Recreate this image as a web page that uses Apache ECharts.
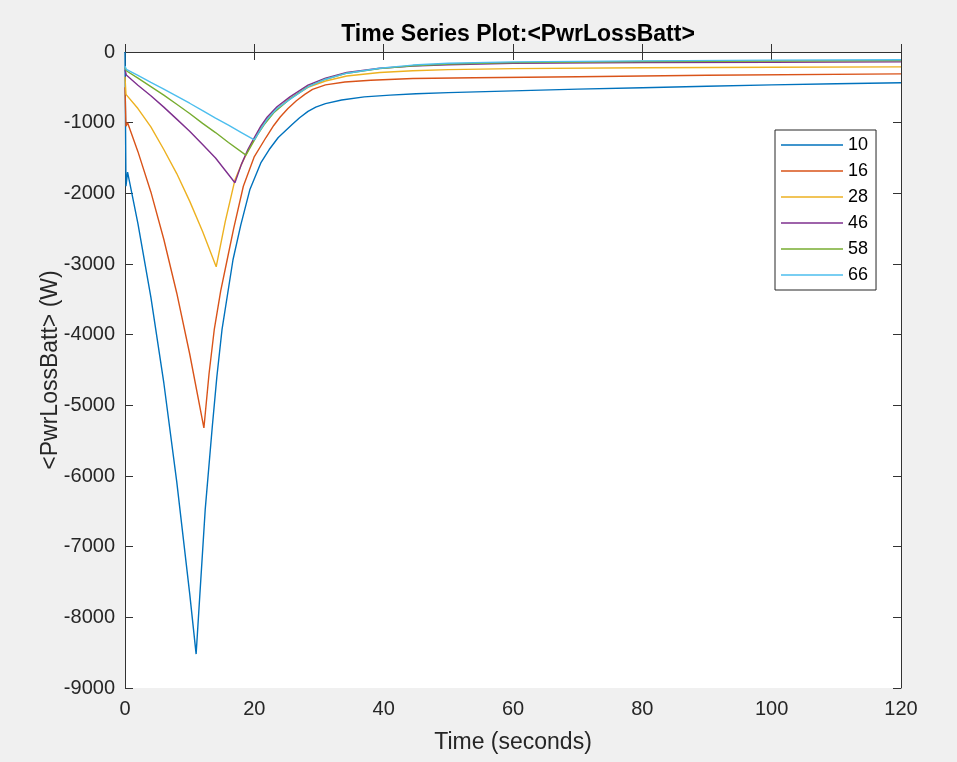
<!DOCTYPE html>
<html>
<head>
<meta charset="utf-8">
<script src="https://cdn.jsdelivr.net/npm/echarts@6/dist/echarts.min.js"></script>
<style>
html,body{margin:0;padding:0;background:#f0f0f0;}
#chart{width:957px;height:762px;}
</style>
</head>
<body>
<div id="chart"></div>
<script>
// ---- data ----
const seriesNames = ['10', '16', '28', '46', '58', '66'];
const xTicks = [0, 20, 40, 60, 80, 100, 120];
const yTicks = [-9000, -8000, -7000, -6000, -5000, -4000, -3000, -2000, -1000, 0];

const t10 = [0, 0.15, 0.4, 2, 4, 6, 8, 10, 11, 12.4, 13.5, 14.2, 15, 16.7, 17.9, 19.3, 21, 22.3, 23.7, 25.8, 27, 28.3, 29.5, 31, 33.5, 37, 41, 45, 50, 60, 70, 80, 90, 100, 110, 120];
const v10 = [0, -1900, -1700, -2430, -3470, -4680, -6080, -7660, -8520, -6480, -5300, -4600, -3930, -2940, -2450, -1950, -1570, -1380, -1210, -1030, -930, -840, -780, -730, -680, -635, -610, -590, -575, -550, -525, -505, -485, -465, -450, -435];

const t16 = [0, 0.15, 0.4, 2, 4, 6, 8, 10, 12.2, 13, 13.8, 14.8, 15.8, 16.8, 18.3, 20, 21.8, 23, 24, 25.2, 26.5, 27.8, 29, 31, 34, 38, 44.5, 54, 70, 90, 120];
const v16 = [-500, -1050, -1000, -1410, -1980, -2650, -3410, -4270, -5320, -4550, -3930, -3380, -2940, -2500, -1900, -1480, -1210, -1040, -920, -800, -690, -600, -530, -465, -425, -400, -375, -365, -350, -330, -310];

const t28 = [0, 0.15, 0.4, 2, 4, 6, 8, 10, 12, 14.1, 15.5, 17, 18, 19, 20, 21, 22, 23.5, 25.5, 28.3, 31, 34.3, 39.4, 44.5, 50, 60, 80, 100, 120];
const v28 = [-350, -600, -585, -800, -1060, -1380, -1720, -2110, -2540, -3040, -2400, -1810, -1590, -1400, -1230, -1070, -940, -800, -660, -500, -410, -340, -290, -265, -250, -235, -222, -215, -210];

const t46 = [0, 0.2, 2, 4, 6, 8, 10, 12, 14, 17, 18, 19, 20, 21, 22, 23.5, 25.5, 28.3, 31, 34.3, 39.4, 44.5, 50, 60, 80, 100, 120];
const v46 = [-250, -325, -470, -620, -780, -950, -1120, -1310, -1500, -1850, -1590, -1380, -1210, -1050, -920, -775, -635, -470, -370, -290, -230, -200, -180, -160, -150, -145, -140];

const t58 = [0, 0.2, 2, 4, 6, 8, 10, 12, 14, 16, 18.7, 19.5, 20.5, 21.5, 23, 25.5, 28.3, 31, 34.3, 39.4, 44.5, 50, 60, 80, 100, 120];
const v58 = [-220, -265, -370, -490, -610, -740, -870, -1010, -1140, -1280, -1460, -1330, -1170, -1030, -860, -665, -490, -385, -300, -235, -195, -170, -150, -135, -128, -122];

const t66 = [0, 0.2, 2, 4, 6, 8, 10, 12, 14, 16, 18, 20, 21, 22, 23.5, 25.5, 28.3, 31, 34.3, 39.4, 44.5, 50, 60, 80, 100, 120];
const v66 = [-200, -245, -330, -430, -525, -625, -725, -830, -935, -1035, -1140, -1245, -1090, -950, -800, -670, -495, -385, -300, -230, -185, -160, -140, -125, -115, -110];

const colors = ['#0072BD', '#D95319', '#EDB120', '#7E2F8E', '#77AC30', '#4DBEEE'];

// ---- build chart ----
const times = [t10, t16, t28, t46, t58, t66];
const values = [v10, v16, v28, v46, v58, v66];
const pair = (t, v) => t.map((x, i) => [x, v[i]]);

const FONT = 'Liberation Sans, Arial, Helvetica, sans-serif';
const axisCol = '#333333';
const labelCol = '#262626';

const chart = echarts.init(document.getElementById('chart'), null, {renderer: 'canvas'});
const xCommon = {
  type: 'value', min: xTicks[0], max: xTicks[xTicks.length - 1], interval: 20,
  axisLine: {show: true, lineStyle: {color: axisCol, width: 1}},
  axisTick: {show: true, inside: true, length: 8, lineStyle: {color: axisCol}},
  splitLine: {show: false}
};
const yCommon = {
  type: 'value', min: yTicks[0], max: yTicks[yTicks.length - 1], interval: 1000,
  axisLine: {show: true, onZero: false, lineStyle: {color: axisCol, width: 1}},
  axisTick: {show: true, inside: true, length: 8, lineStyle: {color: axisCol}},
  splitLine: {show: false}
};

chart.setOption({
  backgroundColor: '#f0f0f0',
  animation: false,
  color: colors,
  textStyle: {fontFamily: FONT},
  title: {
    text: 'Time Series Plot:<PwrLossBatt>',
    left: 513, top: 18, textAlign: 'center',
    textStyle: {fontFamily: FONT, fontSize: 23, fontWeight: 'bold', color: '#000'}
  },
  grid: {
    left: 125, right: 56, top: 52, bottom: 74,
    show: true, backgroundColor: '#ffffff', borderWidth: 0
  },
  legend: {
    orient: 'vertical', left: 775, top: 130,
    data: seriesNames,
    icon: 'rect',
    backgroundColor: '#ffffff', borderColor: '#262626', borderWidth: 1,
    padding: [6, 8, 6, 6],
    itemWidth: 62, itemHeight: 1.5, itemGap: 8,
    textStyle: {fontFamily: FONT, fontSize: 18, color: '#000', lineHeight: 18}
  },
  xAxis: [
    Object.assign({}, xCommon, {
      position: 'bottom',
      name: 'Time (seconds)', nameLocation: 'middle', nameGap: 43, nameMoveOverlap: false,
      nameTextStyle: {fontFamily: FONT, fontSize: 23, color: labelCol},
      axisLabel: {show: true, margin: 11, fontSize: 20, color: labelCol, fontFamily: FONT,
        formatter: v => String(v)}
    }),
    Object.assign({}, xCommon, {position: 'top', axisLabel: {show: false}})
  ],
  yAxis: [
    Object.assign({}, yCommon, {
      position: 'left',
      name: '<PwrLossBatt> (W)', nameLocation: 'middle', nameGap: 63, nameRotate: 90, nameMoveOverlap: false,
      nameTextStyle: {fontFamily: FONT, fontSize: 23, color: labelCol},
      axisLabel: {show: true, margin: 10, fontSize: 20, color: labelCol, fontFamily: FONT,
        formatter: v => String(v)}
    }),
    Object.assign({}, yCommon, {position: 'right', axisLabel: {show: false}})
  ],
  series: seriesNames.map((n, i) => ({
    name: n, type: 'line', xAxisIndex: 0, yAxisIndex: 0,
    data: pair(times[i], values[i]),
    showSymbol: false, symbol: 'none',
    lineStyle: {width: 1.4, color: colors[i]},
    itemStyle: {color: colors[i]}
  }))
});
</script>
</body>
</html>
